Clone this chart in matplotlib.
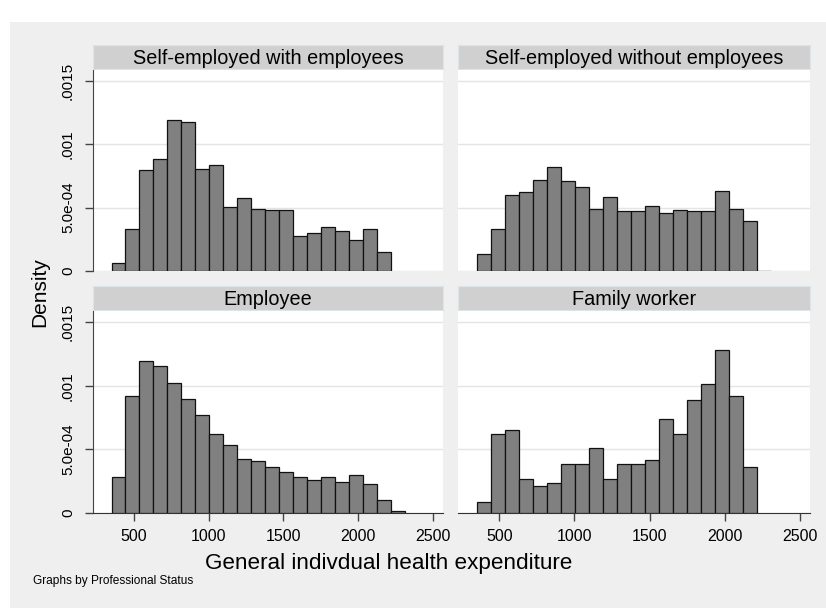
import numpy as np
import matplotlib
matplotlib.use('Agg')
import matplotlib.pyplot as plt
from matplotlib.patches import Rectangle

plt.rcParams['font.family'] = ['Liberation Sans', 'DejaVu Sans']

# histogram bins: start 350, width ~93.33
bin_start = 350
bin_width = 93.33

panel_titles = ['Self-employed with employees', 'Self-employed without employees',
                'Employee', 'Family worker']

self_with = [6.3e-5, 3.34e-4, 8.0e-4, 8.82e-4, 1.195e-3, 1.179e-3, 8.08e-4, 8.40e-4,
             5.03e-4, 5.79e-4, 4.92e-4, 4.82e-4, 4.82e-4, 2.71e-4, 2.95e-4, 3.45e-4,
             3.11e-4, 2.45e-4, 3.34e-4, 1.45e-4]
self_without = [1.29e-4, 3.34e-4, 6.0e-4, 6.24e-4, 7.16e-4, 8.24e-4, 7.08e-4, 6.66e-4,
                4.92e-4, 5.84e-4, 4.74e-4, 4.74e-4, 5.16e-4, 4.61e-4, 4.82e-4, 4.74e-4,
                4.74e-4, 6.34e-4, 4.92e-4, 3.92e-4, 0.0]
employee = [2.84e-4, 9.2e-4, 1.195e-3, 1.153e-3, 1.026e-3, 8.97e-4, 7.74e-4, 6.24e-4,
            5.32e-4, 4.24e-4, 4.08e-4, 3.58e-4, 3.18e-4, 2.84e-4, 2.6e-4, 2.84e-4,
            2.42e-4, 2.95e-4, 2.26e-4, 9.7e-5, 1.3e-5]
family = [8.7e-5, 6.24e-4, 6.5e-4, 2.68e-4, 2.1e-4, 2.37e-4, 3.84e-4, 3.84e-4,
          5.08e-4, 2.68e-4, 3.84e-4, 3.84e-4, 4.16e-4, 7.37e-4, 6.24e-4, 8.87e-4,
          1.013e-3, 1.279e-3, 9.21e-4, 3.58e-4]

densities = [self_with, self_without, employee, family]

x_ticks = [500, 1000, 1500, 2000, 2500]
y_ticks = [0, 0.0005, 0.001, 0.0015]
y_labels = ['0', '5.0e-04', '.001', '.0015']

W, H = 826, 608
fig = plt.figure(figsize=(W / 100, H / 100), dpi=100)
fig.patch.set_facecolor('white')
fig.patches.append(Rectangle((10 / W, 0), 1, 1 - 22 / H, transform=fig.transFigure,
                             facecolor='#efefef', edgecolor='none', zorder=-10))


def px(l, t, r, b):
    return [l / W, 1 - b / H, (r - l) / W, (b - t) / H]


cols = [(93, 443), (458, 810)]
rows = [(70, 270.7, 45, 69), (311, 512.7, 286, 310)]

for i, vals in enumerate(densities):
    r, c = divmod(i, 2)
    l, rt = cols[c]
    t, b, st, sb = rows[r]

    # strip header
    sax = fig.add_axes(px(l, st, rt, sb))
    sax.set_facecolor('#d0d0d0')
    sax.set_xticks([])
    sax.set_yticks([])
    for sp in sax.spines.values():
        sp.set_color('#dde4e8')
        sp.set_linewidth(0.8)
    sax.text(0.5, 0.45, panel_titles[i], ha='center', va='center', fontsize=14.3,
             transform=sax.transAxes)

    ax = fig.add_axes(px(l, t, rt, b))
    ax.set_facecolor('white')
    lefts = bin_start + bin_width * np.arange(len(vals))
    ax.bar(lefts, vals, width=bin_width, align='edge', color='#808080',
           edgecolor='#111111', linewidth=0.9, zorder=3)
    ax.set_xlim(226, 2567)
    ax.set_ylim(0, 0.00159)
    ax.set_yticks(y_ticks)
    ax.yaxis.grid(True, color='#e4e4e4', linewidth=1, zorder=0)
    ax.set_axisbelow(True)
    for sp in ['top', 'right']:
        ax.spines[sp].set_visible(False)

    if c == 0:
        ax.spines['left'].set_color('#444444')
        ax.set_yticklabels(y_labels, rotation=90, va='center', fontsize=11)
        ax.tick_params(axis='y', length=6, width=1, color='#444444', pad=7)
    else:
        ax.spines['left'].set_visible(False)
        ax.tick_params(axis='y', length=0, labelleft=False)

    if r == 1:
        ax.spines['bottom'].set_color('#333333')
        ax.set_xticks(x_ticks)
        ax.set_xticklabels([str(v) for v in x_ticks], fontsize=11.5)
        ax.tick_params(axis='x', length=6, width=1, color='#444444', pad=6)
    else:
        ax.spines['bottom'].set_visible(False)
        ax.set_xticks([])

fig.text(40 / W, 1 - 292 / H, 'Density', rotation=90, ha='center', va='center', fontsize=15)
fig.text(389 / W, 1 - 563 / H, 'General indivdual health expenditure', ha='center',
         va='center', fontsize=16.2)
fig.text(33 / W, 1 - 581 / H, 'Graphs by Professional Status', ha='left', va='center',
         fontsize=8.6)

fig.savefig('out.png', dpi=100)
